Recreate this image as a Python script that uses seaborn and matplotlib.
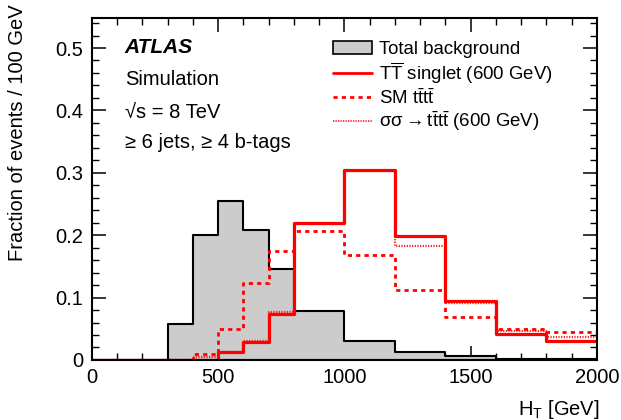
import seaborn as sns
import matplotlib.pyplot as plt
import numpy as np
from matplotlib.patches import Patch
from matplotlib.lines import Line2D
from matplotlib.ticker import MultipleLocator

# bin edges in H_T [GeV]
bin_edges = [0, 300, 400, 500, 600, 700, 800, 1000, 1200, 1400, 1600, 1800, 2000]

total_background = [0.0, 0.058, 0.200, 0.255, 0.209, 0.145, 0.079, 0.031, 0.013, 0.0056, 0.002, 0.001]
tt_singlet = [0.0, 0.0, 0.0, 0.012, 0.028, 0.074, 0.220, 0.305, 0.198, 0.094, 0.041, 0.031]
sm_tttt = [0.0, 0.0, 0.010, 0.050, 0.123, 0.174, 0.206, 0.169, 0.112, 0.069, 0.049, 0.045]
sgluon_tttt = [0.0, 0.0, 0.004, 0.013, 0.030, 0.077, 0.218, 0.303, 0.182, 0.091, 0.046, 0.037]

labels = ["Total background",
          r"$\mathrm{T\overline{T}}$ singlet (600 GeV)",
          r"SM $\mathrm{t\bar{t}t\bar{t}}$",
          r"σσ $\!\!\rightarrow\!\!$ $\mathrm{t\bar{t}t\bar{t}}$ (600 GeV)"]

sns.set_style("ticks", {"axes.edgecolor": "black", "text.color": "black",
                        "axes.labelcolor": "black", "xtick.color": "black",
                        "ytick.color": "black"})
plt.rcParams['font.family'] = ['Liberation Sans', 'DejaVu Sans']
plt.rcParams['mathtext.fontset'] = 'custom'
plt.rcParams['mathtext.rm'] = 'Liberation Sans'
plt.rcParams['mathtext.it'] = 'Liberation Sans:italic'
plt.rcParams['mathtext.bf'] = 'Liberation Sans:bold'

edges = np.array(bin_edges)
centers = 0.5 * (edges[:-1] + edges[1:])

fig = plt.figure(figsize=(6.21, 4.20), dpi=100)
ax = fig.add_axes([0.148, 0.143, 0.813, 0.814])

red = "#ff0000"
sns.histplot(x=centers, weights=total_background, bins=bin_edges, element="step",
             fill=True, facecolor="#cccccc", edgecolor="black", alpha=1, linewidth=1.5, ax=ax)
sns.histplot(x=centers, weights=sgluon_tttt, bins=bin_edges, element="step", fill=False,
             color=red, linestyle=(0, (0.6, 0.6)), linewidth=1.6, alpha=0.8, ax=ax)
sns.histplot(x=centers, weights=sm_tttt, bins=bin_edges, element="step", fill=False,
             color=red, linestyle=(0, (1.5, 1.5)), linewidth=2.0, ax=ax)
sns.histplot(x=centers, weights=tt_singlet, bins=bin_edges, element="step", fill=False,
             color=red, linewidth=2.3, ax=ax)

ax.set_xlim(0, 2000)
ax.set_ylim(0, 0.548)
ax.xaxis.set_major_locator(MultipleLocator(500))
ax.xaxis.set_minor_locator(MultipleLocator(100))
ax.yaxis.set_major_locator(MultipleLocator(0.1))
ax.yaxis.set_minor_locator(MultipleLocator(0.02))
ax.yaxis.set_major_formatter(lambda v, p: "0" if abs(v) < 1e-9 else f"{v:.1f}")
ax.tick_params(which="both", direction="in", top=True, right=True, labelsize=14.5, pad=6,
               colors="black")
ax.tick_params(which="major", length=10, width=1.1)
ax.tick_params(which="minor", length=5, width=1.0)
for s in ax.spines.values():
    s.set_linewidth(1.5)
    s.set_color("black")

ax.set_xlabel(r"H$_\mathrm{T}$ [GeV]", fontsize=14.5, loc="right", color="black")
ax.xaxis.set_label_coords(1.006, -0.112)
ax.set_ylabel("Fraction of events / 100 GeV", fontsize=14.5, loc="top", color="black")
ax.yaxis.set_label_coords(-0.128, 1.04)

ax.text(0.065, 0.915, "ATLAS", transform=ax.transAxes, fontsize=15,
        fontweight="bold", fontstyle="italic", va="center", color="black")
ax.text(0.065, 0.819, "Simulation", transform=ax.transAxes, fontsize=14.5, va="center", color="black")
ax.text(0.065, 0.725, "√s = 8 TeV", transform=ax.transAxes, fontsize=14.5, va="center", color="black")
ax.text(0.065, 0.635, "≥ 6 jets, ≥ 4 b-tags", transform=ax.transAxes, fontsize=14.5,
        va="center", color="black")

handles = [Patch(facecolor="#cccccc", edgecolor="black", linewidth=1.2),
           Line2D([], [], color=red, linewidth=2.0),
           Line2D([], [], color=red, linewidth=2.0, linestyle=(0, (1.5, 1.5))),
           Line2D([], [], color=red, linewidth=1.5, linestyle=(0, (0.6, 0.6)), alpha=0.8)]
leg = ax.legend(handles, labels, loc="upper left", bbox_to_anchor=(0.462, 0.955), frameon=False,
                fontsize=13.4, handlelength=2.1, handletextpad=0.4, labelspacing=0.12,
                borderaxespad=0)
for t in leg.get_texts():
    t.set_color("black")

plt.savefig("out.png", dpi=100)
plt.close()
